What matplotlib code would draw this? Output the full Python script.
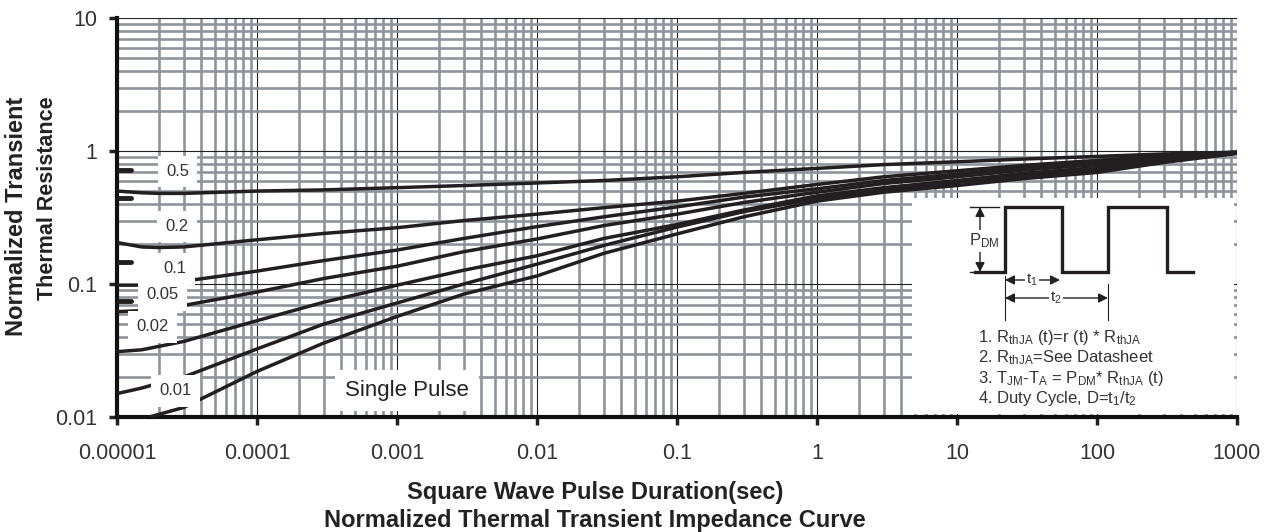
import numpy as np
import matplotlib
matplotlib.use("Agg")
import matplotlib.pyplot as plt
from matplotlib.ticker import LogLocator, FixedLocator, FixedFormatter, NullFormatter

plt.rcParams['font.family'] = ['Liberation Sans', 'DejaVu Sans']

# data
t = [1e-5, 1.5e-5, 2e-5, 3e-5, 1e-4, 3e-4, 1e-3, 3e-3, 1e-2, 3e-2,
     0.1, 0.3, 1, 3, 10, 30, 100, 300, 1000]
d050 = [0.50, 0.485, 0.48, 0.48, 0.50, 0.51, 0.53, 0.55, 0.575, 0.60,
        0.64, 0.69, 0.74, 0.79, 0.83, 0.87, 0.91, 0.95, 0.98]
d020 = [0.205, 0.19, 0.188, 0.19, 0.215, 0.24, 0.265, 0.30, 0.335, 0.375,
        0.42, 0.48, 0.56, 0.64, 0.71, 0.78, 0.85, 0.92, 0.98]
d010 = [0.098, 0.098, 0.10, 0.105, 0.125, 0.15, 0.18, 0.22, 0.27, 0.32,
        0.38, 0.45, 0.52, 0.60, 0.67, 0.75, 0.82, 0.90, 0.98]
d005 = [0.062, 0.063, 0.065, 0.069, 0.087, 0.11, 0.136, 0.175, 0.218, 0.275,
        0.335, 0.41, 0.49, 0.57, 0.64, 0.72, 0.79, 0.88, 0.97]
d002 = [0.031, 0.032, 0.034, 0.037, 0.053, 0.073, 0.098, 0.127, 0.163, 0.22,
        0.28, 0.36, 0.46, 0.53, 0.60, 0.68, 0.75, 0.86, 0.97]
d001 = [0.0150, 0.0165, 0.018, 0.020, 0.0325, 0.05, 0.072, 0.10, 0.141, 0.195,
        0.268, 0.35, 0.44, 0.51, 0.58, 0.65, 0.72, 0.84, 0.96]
t_single = [1.7e-5, 3e-5, 1e-4, 3e-4, 1e-3, 3e-3, 1e-2, 3e-2, 0.1, 0.3,
            1, 3, 10, 30, 100, 300, 1000]
single = [0.0100, 0.0118, 0.022, 0.036, 0.057, 0.084, 0.115, 0.17, 0.238, 0.32,
          0.42, 0.49, 0.55, 0.62, 0.69, 0.82, 0.96]

curve_labels = ['0.5', '0.2', '0.1', '0.05', '0.02', '0.01']
label_x = [2.7e-5, 2.7e-5, 2.6e-5, 2.1e-5, 1.8e-5, 2.6e-5]
label_y = [0.70, 0.27, 0.13, 0.083, 0.0475, 0.0157]
stub_y = [0.72, 0.44, 0.146, 0.075]

x_ticks = [1e-5, 1e-4, 1e-3, 1e-2, 0.1, 1, 10, 100, 1000]
x_ticklabels = ['0.00001', '0.0001', '0.001', '0.01', '0.1', '1', '10', '100', '1000']
y_ticks = [0.01, 0.1, 1, 10]
y_ticklabels = ['0.01', '0.1', '1', '10']

W, H = 1275, 532
fig = plt.figure(figsize=(W / 100, H / 100), dpi=100)
ax = fig.add_axes([117 / W, 1 - 417 / H, (1237 - 117) / W, (417 - 18) / H])
ax.set_xscale('log')
ax.set_yscale('log')
ax.set_xlim(1e-5, 1000)
ax.set_ylim(0.01, 10)

ax.xaxis.set_major_locator(FixedLocator(x_ticks))
ax.xaxis.set_major_formatter(FixedFormatter(x_ticklabels))
ax.yaxis.set_major_locator(FixedLocator(y_ticks))
ax.yaxis.set_major_formatter(FixedFormatter(y_ticklabels))
for a in (ax.xaxis, ax.yaxis):
    a.set_minor_locator(LogLocator(base=10, subs=np.arange(2, 10), numticks=100))
    a.set_minor_formatter(NullFormatter())

ax.set_axisbelow(True)
ax.grid(which='minor', color='#8d949b', lw=1.9)
ax.grid(which='major', color='#222222', lw=0.8)
ax.tick_params(which='minor', length=0)
ax.tick_params(which='major', length=6, width=2.5, direction='out',
               labelsize=15.5, colors='#222222', labelcolor='#333333')
ax.tick_params(axis='x', pad=13)
ax.tick_params(axis='y', pad=8)
for s in ('top', 'right'):
    ax.spines[s].set_visible(False)
for s in ('left', 'bottom'):
    ax.spines[s].set_linewidth(3)
    ax.spines[s].set_color('#111111')

line_kw = dict(color='#231f20', lw=2.5, zorder=3, solid_capstyle='butt')
for ys in (d050, d020, d010, d005, d002, d001):
    ax.plot(t, ys, **line_kw)
ax.plot(t_single, single, **line_kw)

for yv in stub_y:
    ax.plot([1.03e-5, 1.25e-5], [yv, yv], color='#231f20', lw=3.5, zorder=3,
            solid_capstyle='round', clip_on=False)

box = dict(facecolor='white', edgecolor='none', boxstyle='square,pad=0.5')
for lab, lx, ly in zip(curve_labels, label_x, label_y):
    ax.text(lx, ly, lab, fontsize=12, color='#333333', ha='center', va='center',
            bbox=box, zorder=4)
ax.text(1.18e-3, 0.0157, 'Single Pulse', fontsize=16, color='#222222',
        ha='center', va='center', zorder=4,
        bbox=dict(facecolor='white', edgecolor='none', boxstyle='square,pad=0.45'))

# inset with pulse diagram (pixel units of the figure)
ins = fig.add_axes([912 / W, 1 - 414 / H, (1234 - 912) / W, (414 - 198) / H])
ins.set_xlim(912, 1234)
ins.set_ylim(414, 198)
ins.set_facecolor('white')
ins.set_xticks([])
ins.set_yticks([])
for s in ins.spines.values():
    s.set_visible(False)

pulse_x = [975, 1005, 1005, 1062, 1062, 1108, 1108, 1167, 1167, 1193]
pulse_y = [272, 272, 207, 207, 272, 272, 207, 207, 272, 272]
ins.plot(pulse_x, pulse_y, color='#231f20', lw=2.4, solid_joinstyle='miter')

arr = dict(arrowstyle='<|-|>', color='#231f20', lw=1.0, mutation_scale=14,
           shrinkA=0, shrinkB=0)
ins.annotate('', xy=(980, 207), xytext=(980, 272), arrowprops=arr)
ins.plot([970, 999], [207, 207], color='#231f20', lw=1.0)
ins.plot([970, 980], [272, 272], color='#231f20', lw=1.0)
ins.text(984, 241, r'$\mathregular{P_{DM}}$', fontsize=12, color='#333333',
         ha='center', va='center', bbox=dict(facecolor='white', edgecolor='none', pad=1))

ins.annotate('', xy=(1005, 280), xytext=(1060, 280), arrowprops=arr)
ins.text(1032, 280, r'$\mathregular{t_1}$', fontsize=11, color='#333333',
         ha='center', va='center', bbox=dict(facecolor='white', edgecolor='none', pad=1))
ins.annotate('', xy=(1005, 298), xytext=(1108, 298), arrowprops=arr)
ins.text(1056, 298, r'$\mathregular{t_2}$', fontsize=11, color='#333333',
         ha='center', va='center', bbox=dict(facecolor='white', edgecolor='none', pad=1))
ins.plot([1005, 1005], [276, 320], color='#231f20', lw=0.8)
ins.plot([1108, 1108], [284, 320], color='#231f20', lw=0.8)

notes = [r'1. $\mathregular{R_{thJA}}$ (t)=r (t) * $\mathregular{R_{thJA}}$',
         r'2. $\mathregular{R_{thJA}}$=See Datasheet',
         r'3. $\mathregular{T_{JM}}$-$\mathregular{T_A}$ = $\mathregular{P_{DM}}$* $\mathregular{R_{thJA}}$ (t)',
         r'4. Duty Cycle, D=$\mathregular{t_1/t_2}$']
for i, note in enumerate(notes):
    ins.text(978, 337 + i * 20.5, note, fontsize=12, color='#333333',
             ha='left', va='center')

fig.text(595 / W, 1 - 492 / H, 'Square Wave Pulse Duration(sec)', fontsize=17,
         fontweight='bold', color='#222222', ha='center', va='center')
fig.text(595 / W, 1 - 521 / H, 'Normalized Thermal Transient Impedance Curve',
         fontsize=17, fontweight='bold', color='#222222', ha='center', va='center')
fig.text(17 / W, 1 - 216 / H, 'Normalized Transient', fontsize=17, rotation=90,
         fontweight='bold', color='#222222', ha='center', va='center')
fig.text(48 / W, 1 - 198 / H, 'Thermal Resistance', fontsize=15.5, rotation=90,
         fontweight='bold', color='#222222', ha='center', va='center')

fig.savefig('out.png', dpi=100, facecolor='white')
